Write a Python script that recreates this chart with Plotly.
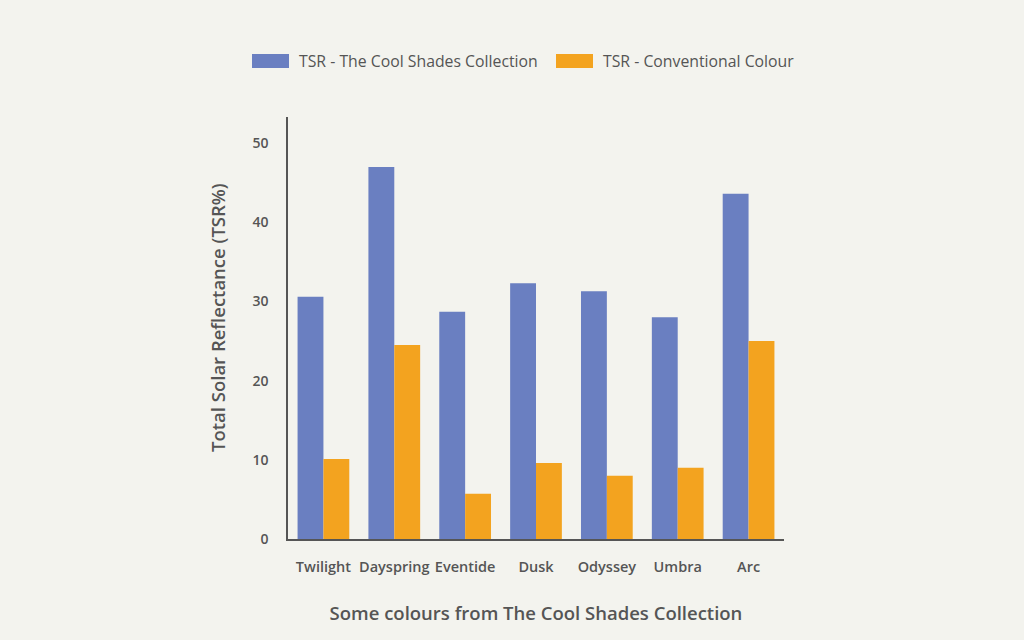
import plotly.graph_objects as go

categories = ["Twilight", "Dayspring", "Eventide", "Dusk", "Odyssey", "Umbra", "Arc"]
cool_shades = [30.6, 47.0, 28.7, 32.3, 31.3, 28.0, 43.6]
conventional = [10.1, 24.5, 5.7, 9.6, 8.0, 9.0, 25.0]
y_ticks = [0, 10, 20, 30, 40, 50]
series_names = ["TSR - The Cool Shades Collection", "TSR - Conventional Colour"]
series_colors = ["#6a7fc1", "#f3a31f"]

BG = "#f3f3ee"
TXT = "#555555"
FONT = "Open Sans"

fig = go.Figure()
for vals, name, col in zip([cool_shades, conventional], series_names, series_colors):
    fig.add_trace(go.Bar(x=categories, y=vals, name=name,
                         marker=dict(color=col, line=dict(width=0))))

# legend drawn as swatches + labels at the top
legend_x = [252, 556]
for lx, name, col in zip(legend_x, series_names, series_colors):
    fig.add_shape(type="rect", xref="paper", yref="paper",
                  x0=(lx - 288) / 496, x1=(lx + 37 - 288) / 496,
                  y0=(539 - 68) / 422, y1=(539 - 54) / 422,
                  fillcolor=col, line=dict(width=0))
    fig.add_annotation(text=name, xref="paper", yref="paper",
                       x=(lx + 45 - 288) / 496, y=(539 - 61) / 422,
                       xanchor="left", yanchor="middle", showarrow=False,
                       font=dict(size=15.8, color=TXT, family=FONT))

# y-axis title
fig.add_annotation(text="Total Solar Reflectance (TSR%)", xref="paper", yref="paper",
                   x=(217 - 288) / 496, y=(539 - 318) / 422, textangle=-90,
                   xanchor="center", yanchor="middle", showarrow=False,
                   font=dict(size=18.5, color=TXT, family=FONT, weight=600))

fig.update_layout(
    width=1024, height=640,
    paper_bgcolor=BG, plot_bgcolor=BG,
    margin=dict(l=288, r=240, t=117, b=101),
    barmode="group", bargap=0.27, bargroupgap=0,
    font=dict(family=FONT, color=TXT),
    showlegend=False,
    xaxis=dict(showline=True, linecolor="#555555", linewidth=1.5, showgrid=False,
               ticks="", tickfont=dict(size=14.5, color=TXT, family=FONT, weight=600),
               ticklabelstandoff=14,
               title=dict(text="Some colours from The Cool Shades Collection",
                          font=dict(size=18.5, color=TXT, weight=600), standoff=32)),
    yaxis=dict(range=[0, 53.3], tickvals=y_ticks, showline=True, linecolor="#555555",
               linewidth=1.5, showgrid=False, zeroline=False, ticks="",
               tickfont=dict(size=14, color=TXT, family=FONT, weight=600),
               ticklabelstandoff=15),
)

fig.write_html("out.html", config={"displayModeBar": False},
               post_script="document.body.style.margin='0';document.body.style.background='#f3f3ee';")
